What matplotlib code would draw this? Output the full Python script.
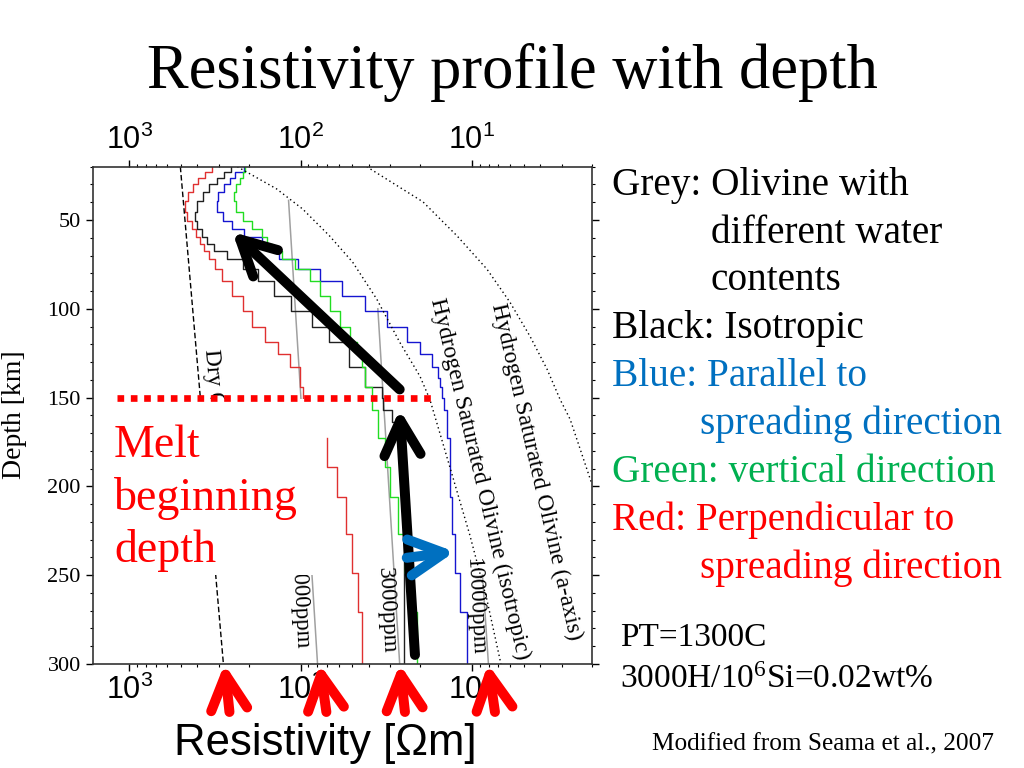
import numpy as np
import matplotlib
matplotlib.use("Agg")
import matplotlib.pyplot as plt
from matplotlib.patches import FancyArrowPatch, Rectangle, ArrowStyle
from matplotlib.ticker import LogLocator, MultipleLocator, NullFormatter

plt.rcParams['font.family'] = ['Liberation Serif', 'DejaVu Serif']
plt.rcParams['mathtext.default'] = 'regular'

nan = np.nan

# model layer boundaries [km]
layer_edges = [20, 23, 26.5, 30, 34.5, 39.5, 45.5, 50.5, 55, 59.5, 63.5, 67.5, 72,
               77.5, 84.5, 93, 101.5, 110.5, 118.5, 125.5, 132.5, 139, 144, 150,
               157, 164, 172.5, 189, 206, 227, 249, 271, 300]

# resistivity of each layer [ohm m]
red_perp = [327, 359, 395, 422, 452, 470, 458, 428, 406, 384, 364, 341, 314, 286,
            250, 218, 191, 162, 136, 116, 101, 101, 97, nan, nan, nan, 70.5, 61,
            54, 50, 46, 44]
black_iso = [253, 278, 306, 341, 369, 400, 411, 400, 374, 350, 318, 267, 218, 178,
             142, 113, 86, 68, 52, 52, 42, 42, 33.6, 33.2, 29.4, 26.4, 25, 25, 25,
             25, 25, 25]
blue_par = [213, 240, 257, 278, 302, 306, 282, 250, 213, 169, 152, 133, 104, 77.4,
            57.6, 42.2, 31.4, 24.0, 20.1, 17.1, 15.8, 15.4, 15.0, 14.6, 14.0, 14.0,
            13.4, 13.4, 13.1, 12.6, 11.7, 10.7]
green_vert = [210, 218, 227, 237, 243, 237, 218, 191, 167, 156, 146, 129, 108, 88.6,
              77.4, 67.7, 59.2, 51.7, 47.0, 44.0, 42.2, 42.2, 38.4, 38.4, 35.4, 35.4,
              32.3, 30.2, 27.1, 24.6, 23.0, 21.0]

# olivine models (grey = water contents)
dry_depth = [20, 300]
dry_res = [503, 282]
w1000_depth = [39, 300]
w1000_res = [117.5, 79.6]
w3000_depth = [100, 300]
w3000_res = [35.4, 26.4]
w10000_depth = [250, 300]
w10000_res = [8.68, 8.01]

iso_sat_depth = [20, 32.5, 43.8, 59, 73.7, 94.6, 118.8, 138, 151, 173.6, 227.2, 263.9, 300]
iso_sat_res = [234, 138, 97.3, 67.7, 49.7, 35.9, 26.4, 20.1, 17.6, 15.0, 10.3, 8.17, 6.77]
a_sat_depth = [20, 39.8, 59, 77.7, 96.3, 115.5, 134.1, 151, 162.3, 199]
a_sat_res = [41.1, 19.3, 12.2, 8.17, 6.0, 4.58, 3.64, 3.06, 2.67, 1.99]

melt_depth = 150
melt_res = [1175, 17.1]

# annotation arrows (resistivity, depth)
black_arrows = [((26.4, 145.4), (250, 56.8)), ((21.5, 294.9), (26.4, 156.7))]
blue_arrow = ((24.0, 240.2), (12.6, 236.8))
red_tips = [278, 77.4, 26.4, 8.06]
red_tails = [260, 70.7, 24.6, 7.34]

BLUE = '#0070C0'
GREEN = '#00B050'
RED = '#FF0000'

fig = plt.figure(figsize=(10.24, 7.68), dpi=100)
ax = fig.add_axes([93.3 / 1024, 1 - 664 / 768, 498.4 / 1024, 497.3 / 768])

edges = np.array(layer_edges)


def step_xy(values):
    v = np.asarray(values, float)
    return np.repeat(v, 2), np.column_stack([edges[:-1], edges[1:]]).ravel()


for vals, col in [(red_perp, '#e03030'), (black_iso, '#202020'),
                  (blue_par, '#1515d0'), (green_vert, '#22dd22')]:
    x, y = step_xy(vals)
    ax.plot(x, y, color=col, lw=1.0, zorder=2)

ax.plot(dry_res, dry_depth, color='black', lw=1.0, ls=(0, (4, 2)), zorder=2)
for r, d in [(w1000_res, w1000_depth), (w3000_res, w3000_depth), (w10000_res, w10000_depth)]:
    ax.plot(r, d, color='#a0a0a0', lw=1.1, zorder=1.9)
ax.plot(iso_sat_res, iso_sat_depth, color='black', lw=1.0, ls=(0, (1, 2.2)), zorder=2)
ax.plot(a_sat_res, a_sat_depth, color='black', lw=1.0, ls=(0, (1, 2.2)), zorder=2)

# in-plot labels
ax.text(336, 122.8, 'Dry Olivine', rotation=-85, rotation_mode='anchor',
        ha='left', va='center', fontsize=17, zorder=2.1)
ax.text(105.5, 243.6, '1000ppm', rotation=-87, rotation_mode='anchor',
        ha='left', va='center', fontsize=16.5, zorder=2.1)
ax.text(32.3, 245.8, '3000ppm', rotation=-87, rotation_mode='anchor',
        ha='left', va='center', fontsize=16.5, zorder=3)
ax.text(9.87, 240.2, '10000ppm', rotation=-87, rotation_mode='anchor',
        ha='left', va='center', fontsize=16.5, zorder=3)
ax.text(9.0, 195.6, 'Hydrogen Saturated Olivine (isotropic)', rotation=-76.5,
        rotation_mode='anchor', ha='center', va='center', fontsize=17, zorder=3)
ax.text(4.22, 191.9, 'Hydrogen Saturated Olivine (a-axis)', rotation=-77,
        rotation_mode='anchor', ha='center', va='center', fontsize=17, zorder=3)

# white panel behind the "Melt beginning depth" label
ax.add_patch(Rectangle((0, 151), 0.447, 99, transform=ax.get_yaxis_transform(),
                       facecolor='white', edgecolor='none', zorder=2.3))

ax.plot(melt_res, [melt_depth, melt_depth], color=RED, lw=4.8, ls=(0, (1, 1)),
        solid_capstyle='butt', dash_capstyle='butt', zorder=4)

style = ArrowStyle('->', head_length=25, head_width=13)


def add_arrow(tail, tip, color):
    ax.add_patch(FancyArrowPatch(tail, tip, arrowstyle=style, mutation_scale=1,
                                 lw=7.2, color=color, shrinkA=0, shrinkB=0,
                                 capstyle='round', joinstyle='round',
                                 zorder=6, clip_on=False))


for tail, tip in black_arrows:
    add_arrow(tail, tip, 'black')
add_arrow(blue_arrow[0], blue_arrow[1], BLUE)
for tip, tail in zip(red_tips, red_tails):
    add_arrow((tail, 327), (tip, 300), RED)

# axes
ax.set_xscale('log')
ax.set_xlim(1620, 2.0)
ax.set_ylim(300, 20)
ax.xaxis.set_major_locator(LogLocator(base=10, numticks=10))
ax.xaxis.set_minor_locator(LogLocator(base=10, subs=np.arange(2, 10), numticks=20))
ax.xaxis.set_minor_formatter(NullFormatter())
ax.yaxis.set_major_locator(MultipleLocator(50))
ax.yaxis.set_minor_locator(MultipleLocator(10))
ax.tick_params(axis='x', which='both', top=True, labeltop=True, direction='out')
ax.tick_params(axis='x', which='major', length=5, width=1, labelsize=22, pad=3,
               labelfontfamily='Liberation Sans')
ax.tick_params(axis='x', which='minor', length=2.5, width=0.8)
ax.tick_params(axis='y', which='both', right=True, direction='out')
ax.tick_params(axis='y', which='major', length=5, width=1, labelsize=16, pad=4)
ax.tick_params(axis='y', which='minor', length=2.5, width=0.8)
for s in ax.spines.values():
    s.set_linewidth(1.2)
    s.set_color('#333333')


def fx(px):
    return px / 1024


def fy(py):
    return 1 - py / 768


fig.text(0.5, fy(88), 'Resistivity profile with depth', ha='center', va='baseline', fontsize=45)
fig.text(fx(325), fy(755), 'Resistivity [\u03a9m]', ha='center', va='baseline',
         fontsize=31.5, family='Liberation Sans')
fig.text(fx(15), fy(415), 'Depth [km]', ha='center', va='center', rotation=90, fontsize=20)

for s, base in [('Melt', 457), ('beginning', 509.5), ('depth', 562)]:
    fig.text(fx(114), fy(base), s, color=RED, fontsize=33, va='baseline')

legend_lines = [
    ('Grey: Olivine with', 612, 195, 'black'),
    ('different water', 711, 243, 'black'),
    ('contents', 711, 290, 'black'),
    ('Black: Isotropic', 612, 338, 'black'),
    ('Blue: Parallel to', 612, 386, BLUE),
    ('spreading direction', 700, 434, BLUE),
    ('Green: vertical direction', 612, 482, GREEN),
    ('Red: Perpendicular to', 612, 530, RED),
    ('spreading direction', 700, 578, RED),
]
for s, x, base, col in legend_lines:
    fig.text(fx(x), fy(base), s, color=col, fontsize=28.3, va='baseline')

fig.text(fx(620), fy(646), 'PT=1300C', fontsize=24, va='baseline')
fig.text(fx(620), fy(688), '3000H/10$^{\\mathdefault{6}}$Si=0.02wt%', fontsize=24, va='baseline')
fig.text(fx(652), fy(750), 'Modified from Seama et al., 2007', fontsize=18.2, va='baseline')

fig.savefig('out.png', dpi=100)
